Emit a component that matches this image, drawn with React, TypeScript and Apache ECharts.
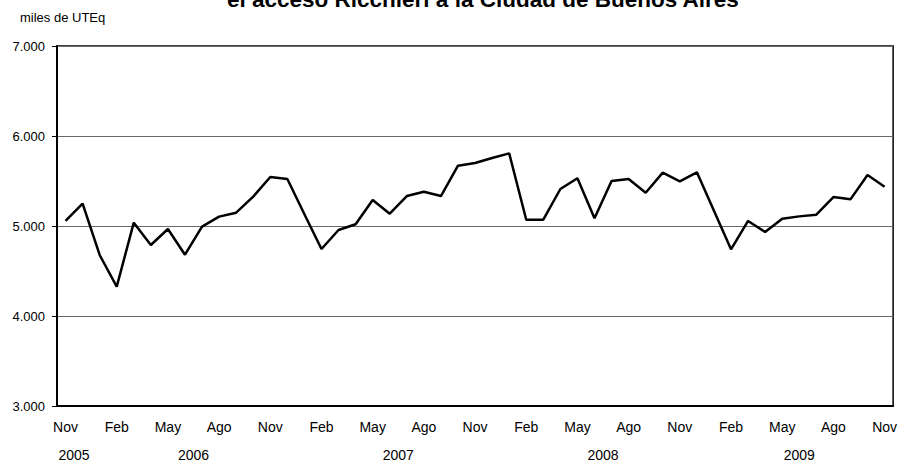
import React, { useEffect, useRef } from "react";
import * as echarts from "echarts";

const titleText = "el acceso Ricchieri a la Ciudad de Buenos Aires";
const unitLabel = "miles de UTEq";

const categories = [
  "Nov 2005", "Dic 2005",
  "Ene 2006", "Feb 2006", "Mar 2006", "Abr 2006", "May 2006", "Jun 2006",
  "Jul 2006", "Ago 2006", "Sep 2006", "Oct 2006", "Nov 2006", "Dic 2006",
  "Ene 2007", "Feb 2007", "Mar 2007", "Abr 2007", "May 2007", "Jun 2007",
  "Jul 2007", "Ago 2007", "Sep 2007", "Oct 2007", "Nov 2007", "Dic 2007",
  "Ene 2008", "Feb 2008", "Mar 2008", "Abr 2008", "May 2008", "Jun 2008",
  "Jul 2008", "Ago 2008", "Sep 2008", "Oct 2008", "Nov 2008", "Dic 2008",
  "Ene 2009", "Feb 2009", "Mar 2009", "Abr 2009", "May 2009", "Jun 2009",
  "Jul 2009", "Ago 2009", "Sep 2009", "Oct 2009", "Nov 2009",
];

const traffic = [
  5056, 5248, 4678, 4326, 5037, 4789, 4967, 4681, 4993, 5104,
  5148, 5326, 5544, 5522, 5130, 4744, 4956, 5019, 5289, 5137,
  5333, 5381, 5333, 5670, 5700, 5756, 5807, 5070, 5070, 5411,
  5530, 5085, 5500, 5522, 5370, 5593, 5496, 5596, 5170, 4741,
  5056, 4933, 5081, 5107, 5126, 5322, 5296, 5567, 5437,
];

const years = ["2005", "2006", "2007", "2008", "2009"];

const yMin = 3000;
const yMax = 7000;
const yStep = 1000;

const FONT = '"Liberation Sans", Arial, sans-serif';

export default function App() {
  const ref = useRef<HTMLDivElement>(null);

  useEffect(() => {
    if (!ref.current) return;
    const chart = echarts.init(ref.current, null, { renderer: "svg" });
    const option: any = {
      animation: false,
      backgroundColor: "#ffffff",
      textStyle: { fontFamily: FONT },
      grid: {
        left: 57,
        right: 4,
        top: 46,
        bottom: 56,
        show: true,
        borderColor: "#000000",
        borderWidth: 1.5,
      },
      xAxis: {
        type: "category",
        data: categories,
        boundaryGap: true,
        axisLine: { show: true, lineStyle: { color: "#000000", width: 2 } },
        axisTick: { show: false },
        splitLine: { show: false },
        axisLabel: {
          interval: 2,
          margin: 14,
          color: "#000000",
          fontSize: 14,
          fontFamily: FONT,
          formatter: (v: string) => v.split(" ")[0],
        },
      },
      yAxis: {
        type: "value",
        min: yMin,
        max: yMax,
        interval: yStep,
        axisLine: { show: true, lineStyle: { color: "#000000", width: 2 } },
        axisTick: { show: true, length: 5, lineStyle: { color: "#000000", width: 1 } },
        splitLine: { show: true, lineStyle: { color: "#6a6a6a", width: 1 } },
        axisLabel: {
          margin: 12,
          color: "#000000",
          fontSize: 13,
          fontFamily: FONT,
          formatter: (v: number) => (v / 1000).toFixed(3),
        },
      },
      series: [
        {
          type: "line",
          data: traffic,
          showSymbol: false,
          symbol: "none",
          lineStyle: { color: "#000000", width: 2.5 },
          z: 5,
        },
      ],
      graphic: [
        {
          type: "text",
          left: 227,
          top: -12,
          style: {
            text: titleText,
            fill: "#000000",
            font: `bold 22.5px ${FONT}`,
          },
        },
        {
          type: "text",
          left: 20,
          top: 11,
          style: {
            text: unitLabel,
            fill: "#000000",
            font: `13px ${FONT}`,
          },
        },
      ],
    };
    chart.setOption(option);

    // Year labels centred under the months belonging to each year
    const yearGraphics = years.map((yr) => {
      const idx = categories
        .map((c, i) => (c.endsWith(yr) ? i : -1))
        .filter((i) => i >= 0);
      const x0 = chart.convertToPixel({ xAxisIndex: 0 }, idx[0]) as number;
      const x1 = chart.convertToPixel({ xAxisIndex: 0 }, idx[idx.length - 1]) as number;
      return {
        type: "text",
        x: (x0 + x1) / 2,
        y: 455,
        style: {
          text: yr,
          fill: "#000000",
          font: `14px ${FONT}`,
          textAlign: "center",
          textVerticalAlign: "middle",
        },
      };
    });
    chart.setOption({ graphic: [...option.graphic, ...yearGraphics] });

    return () => chart.dispose();
  }, []);

  return (
    <div
      ref={ref}
      style={{ position: "absolute", left: 0, top: 0, width: 900, height: 462 }}
    />
  );
}
